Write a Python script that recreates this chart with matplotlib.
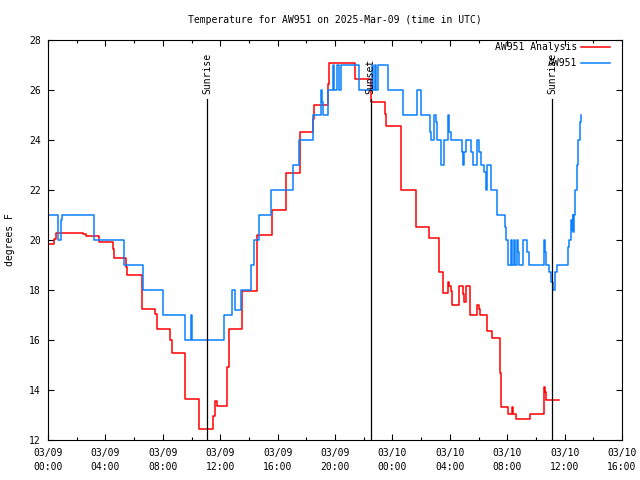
import pandas as pd
import matplotlib
matplotlib.use('Agg')
import matplotlib.pyplot as plt
import matplotlib.dates as mdates

start = pd.Timestamp('2025-03-09 00:00')

# hours after 03/09 00:00 UTC -> degrees F (step data)
ana_hours = [0.00, 0.42, 0.56, 2.46, 2.65, 3.57, 4.51, 4.60, 5.44, 5.53,
             6.55, 7.48, 7.62, 8.50, 8.66, 9.52, 9.57, 10.54, 11.52, 11.62,
             11.76, 12.49, 12.59, 13.52, 14.54, 15.61, 16.59, 17.56, 18.49, 18.56,
             19.53, 19.60, 21.41, 22.51, 23.48, 23.55, 24.58, 25.64, 26.55, 27.23,
             27.55, 27.87, 27.94, 28.06, 28.15, 28.62, 28.90, 28.99, 29.13, 29.41,
             29.93, 30.06, 30.10, 30.61, 30.94, 31.50, 31.59, 32.08, 32.33, 32.43,
             32.61, 33.59, 34.56, 34.63, 34.70, 35.59]
ana_temp = [19.84, 20.03, 20.27, 20.23, 20.16, 19.90, 19.65, 19.27, 18.93, 18.59,
            17.24, 17.04, 16.43, 16.00, 15.47, 14.50, 13.63, 12.44, 12.96, 13.55,
            13.36, 14.93, 16.45, 17.96, 20.20, 21.20, 22.67, 24.33, 24.83, 25.40,
            26.24, 27.07, 26.43, 25.52, 25.04, 24.56, 22.00, 20.53, 20.08, 18.73,
            17.90, 18.30, 18.17, 17.97, 17.40, 18.16, 17.85, 17.53, 18.16, 17.01,
            17.40, 17.25, 17.01, 16.37, 16.08, 14.67, 13.31, 13.04, 13.31, 13.04,
            12.83, 13.04, 14.13, 13.90, 13.60, 13.60]

obs_hours = [0.00, 0.72, 0.91, 1.00, 3.23, 5.32, 6.64, 7.99, 9.57, 9.94,
             10.01, 12.29, 12.84, 13.05, 13.43, 14.15, 14.38, 14.72, 15.52, 17.05,
             17.51, 18.49, 18.99, 19.09, 19.16, 19.53, 19.84, 19.95, 20.12, 20.30,
             20.40, 21.69, 22.58, 22.68, 22.79, 22.89, 23.00, 23.67, 24.72, 25.69,
             25.99, 26.60, 26.69, 26.92, 27.04, 27.11, 27.37, 27.62, 27.87, 27.96,
             28.06, 28.83, 28.92, 29.01, 29.11, 29.48, 29.60, 29.91, 30.05, 30.15,
             30.40, 30.50, 30.59, 30.87, 31.27, 31.85, 31.92, 32.08, 32.24, 32.33,
             32.47, 32.56, 32.66, 32.73, 32.84, 33.12, 33.36, 33.54, 34.56, 34.63,
             34.70, 34.93, 35.03, 35.17, 35.33, 35.45, 36.22, 36.29, 36.43, 36.50,
             36.56, 36.61, 36.68, 36.75, 36.84, 36.95, 37.07, 37.16]
obs_temp = [21, 20, 20.8, 21, 20, 19, 18, 17, 16, 17,
            16, 17, 18, 17.2, 18, 19, 20, 21, 22, 23,
            24, 25, 26, 25.5, 25, 26, 27, 26, 27, 26,
            27, 26, 27, 26, 27, 26, 27, 26, 25, 26,
            25, 24.3, 24, 25, 24.7, 24, 23, 24, 25, 24.3,
            24, 23.5, 23, 23.5, 24, 23.5, 23, 24, 23.5, 23,
            22.7, 22, 23, 22, 21, 20.5, 20, 19, 20, 19,
            20, 19, 20, 19.5, 19, 20, 19.5, 19, 20, 19.5,
            19, 18.7, 18.3, 18, 18.7, 19, 19.7, 20, 20.8, 20.4,
            21, 20.3, 21, 22, 23, 24, 24.7, 25]

event_names = ['Sunrise', 'Sunset', 'Sunrise']
event_hours = [11.08, 22.50, 35.12]

plt.rcParams['font.family'] = 'DejaVu Sans Mono'
plt.rcParams['font.size'] = 7

fig = plt.figure(figsize=(6.4, 4.8), dpi=100)
ax = fig.add_axes([48/640, 40/480, 574/640, 400/480])

ana_t = start + pd.to_timedelta(ana_hours, unit='h')
obs_t = start + pd.to_timedelta(obs_hours, unit='h')
ax.plot(ana_t, ana_temp, drawstyle='steps-post', color='#ff0000', lw=1.1, label='AW951 Analysis')
ax.plot(obs_t, obs_temp, drawstyle='steps-post', color='#0a80ff', lw=1.1, label='AW951')

# sunrise / sunset markers
for name, h in zip(event_names, event_hours):
    t = start + pd.Timedelta(hours=h)
    ax.axvline(t, ymin=0, ymax=0.8525, color='black', lw=0.9)
    ax.text(t, 0.866, name, transform=ax.get_xaxis_transform(),
            rotation=90, ha='center', va='bottom')

ax.set_xlim(start, start + pd.Timedelta(hours=40))
ax.set_ylim(12, 28)
ax.set_yticks(range(12, 29, 2))
ax.xaxis.set_major_locator(mdates.HourLocator(byhour=range(0, 24, 4)))
ax.xaxis.set_minor_locator(mdates.HourLocator(byhour=range(2, 24, 4)))
ax.xaxis.set_major_formatter(mdates.DateFormatter('%m/%d\n%H:%M'))
ax.tick_params(which='both', direction='in', top=True, right=True, width=0.8)
ax.tick_params(which='major', length=4.5)
ax.tick_params(which='minor', length=2.5)
ax.tick_params(axis='x', pad=6)
ax.tick_params(axis='y', pad=5)
for s in ax.spines.values():
    s.set_linewidth(0.8)

ax.set_title('Temperature for AW951 on 2025-Mar-09 (time in UTC)', fontsize=7, pad=12)
ax.set_ylabel('degrees F', fontsize=7)
ax.yaxis.set_label_coords(-0.058, 0.5)

ax.legend(loc='upper right', bbox_to_anchor=(1 - 12/574, 1 - 2/400), frameon=False,
          markerfirst=False, handlelength=3.0, handletextpad=0.4,
          labelspacing=0.62, borderpad=0, borderaxespad=0, fontsize=7)

fig.canvas.draw()
for lab in ax.get_xticklabels():
    lab.set_linespacing(1.45)

fig.savefig('out.png', dpi=100)
